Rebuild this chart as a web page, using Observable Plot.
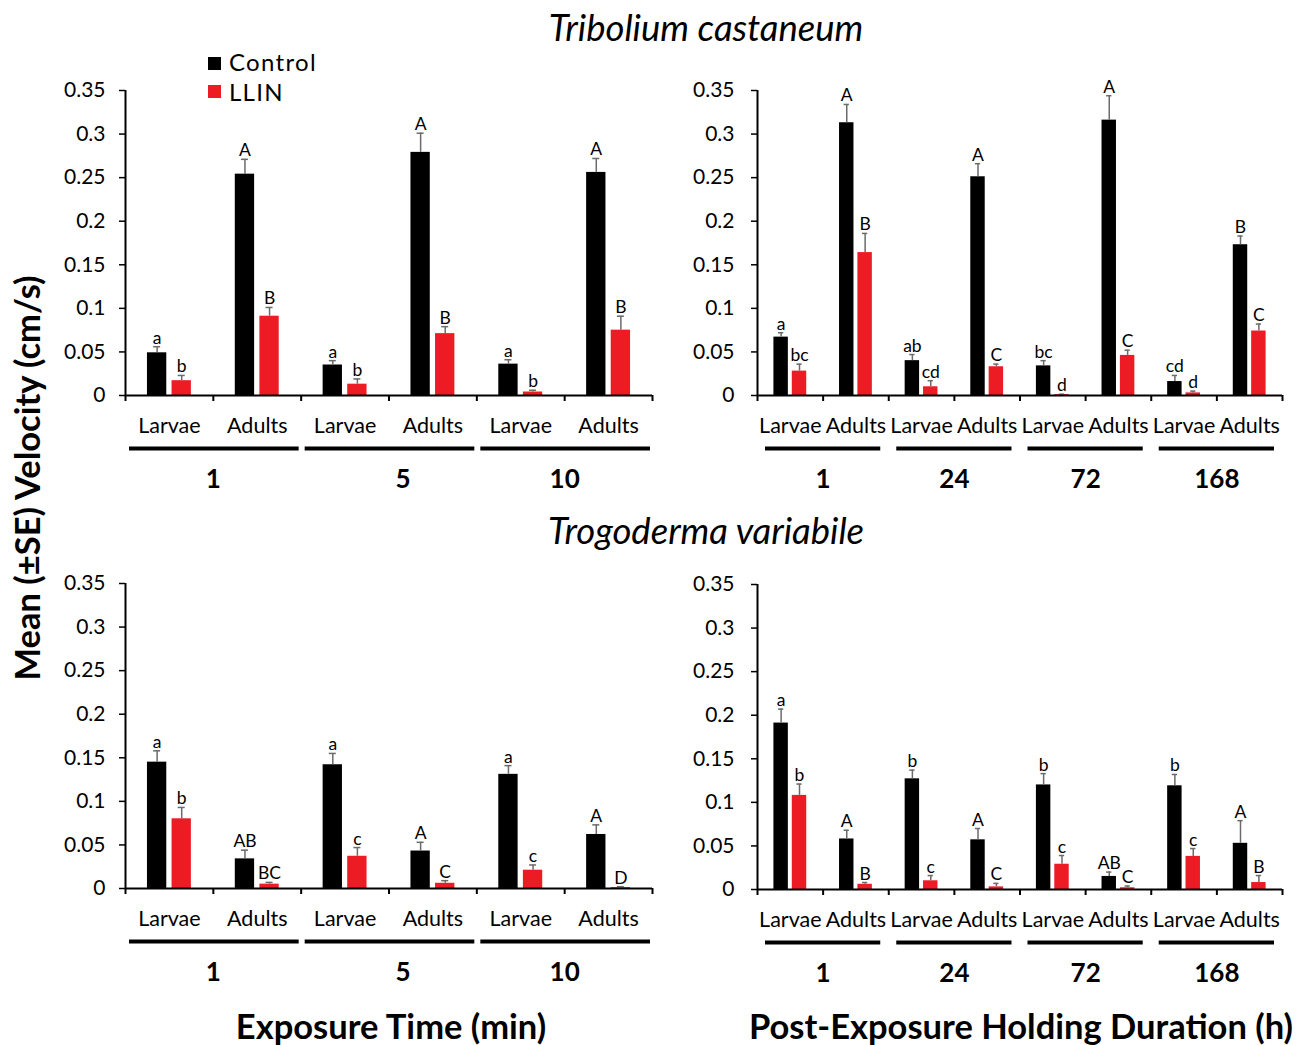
<!DOCTYPE html>
<html>
<head>
<meta charset="utf-8">
<script src="https://cdn.jsdelivr.net/npm/d3@7"></script>
<script src="https://cdn.jsdelivr.net/npm/@observablehq/plot@0.6"></script>
<style>
  html, body { margin: 0; padding: 0; background: #fff; }
  body { width: 1301px; height: 1045px; position: relative; overflow: hidden; font-family: Lato, "Open Sans", sans-serif; color: #000; }
  .abs { position: absolute; white-space: nowrap; line-height: 1; }
  .center { transform: translate(-50%, -50%); }
  .title { font-size: 36.5px; font-style: italic; }
  .axtitle { font-size: 34.5px; font-weight: bold; }
  .legsq { position: absolute; width: 13px; height: 13px; }
  .legtx { font-size: 24px; line-height: 1; letter-spacing: 1.3px; }
</style>
</head>
<body>
<script>
// ---------------- data ----------------
const stages = ["Larvae", "Adults"];
const treatments = ["Control", "LLIN"];
const yTicks = [0, 0.05, 0.1, 0.15, 0.2, 0.25, 0.3, 0.35];

// Tribolium castaneum — exposure time (min)
const tcExpGroups = ["1", "5", "10"];
const tcExpCtrlMean = [0.049, 0.254, 0.035, 0.279, 0.036, 0.256];
const tcExpCtrlSE   = [0.007, 0.017, 0.005, 0.022, 0.005, 0.016];
const tcExpLlinMean = [0.017, 0.091, 0.013, 0.071, 0.004, 0.075];
const tcExpLlinSE   = [0.006, 0.010, 0.006, 0.008, 0.002, 0.016];
const tcExpCtrlLetters = ["a", "A", "a", "A", "a", "A"];
const tcExpLlinLetters = ["b", "B", "b", "B", "b", "B"];

// Tribolium castaneum — post-exposure holding duration (h)
const tcHoldGroups = ["1", "24", "72", "168"];
const tcHoldCtrlMean = [0.067, 0.313, 0.040, 0.251, 0.034, 0.316, 0.016, 0.173];
const tcHoldCtrlSE   = [0.005, 0.021, 0.007, 0.015, 0.006, 0.028, 0.007, 0.010];
const tcHoldLlinMean = [0.028, 0.164, 0.010, 0.033, 0.001, 0.046, 0.003, 0.074];
const tcHoldLlinSE   = [0.008, 0.022, 0.007, 0.003, 0.0005, 0.006, 0.002, 0.008];
const tcHoldCtrlLetters = ["a", "A", "ab", "A", "bc", "A", "cd", "B"];
const tcHoldLlinLetters = ["bc", "B", "cd", "C", "d", "C", "d", "C"];

// Trogoderma variabile — exposure time (min)
const tvExpGroups = ["1", "5", "10"];
const tvExpCtrlMean = [0.145, 0.034, 0.142, 0.043, 0.131, 0.062];
const tvExpCtrlSE   = [0.013, 0.010, 0.013, 0.010, 0.010, 0.011];
const tvExpLlinMean = [0.080, 0.005, 0.037, 0.006, 0.021, 0.001];
const tvExpLlinSE   = [0.013, 0.002, 0.010, 0.003, 0.006, 0.001];
const tvExpCtrlLetters = ["a", "AB", "a", "A", "a", "A"];
const tvExpLlinLetters = ["b", "BC", "c", "C", "c", "D"];

// Trogoderma variabile — post-exposure holding duration (h)
const tvHoldGroups = ["1", "24", "72", "168"];
const tvHoldCtrlMean = [0.191, 0.058, 0.127, 0.057, 0.120, 0.015, 0.119, 0.053];
const tvHoldCtrlSE   = [0.016, 0.010, 0.010, 0.013, 0.013, 0.005, 0.013, 0.026];
const tvHoldLlinMean = [0.108, 0.006, 0.010, 0.003, 0.029, 0.002, 0.038, 0.008];
const tvHoldLlinSE   = [0.013, 0.002, 0.006, 0.004, 0.010, 0.002, 0.009, 0.008];
const tvHoldCtrlLetters = ["a", "A", "b", "A", "b", "AB", "b", "A"];
const tvHoldLlinLetters = ["b", "B", "c", "C", "c", "C", "c", "B"];

// ---------------- styling ----------------
const colors = {Control: "#000000", LLIN: "#ed1c24"};
const errColor = "#6b6b6b";
const barCenter = {Control: 0.36, LLIN: 0.64};
const barWidthFrac = 0.22;

function panel(cfg) {
  const {groups, ctrlMean, ctrlSE, llinMean, llinSE, ctrlLetters, llinLetters,
         left, top, axisX, rightX, tickPadding, lineInsetL, lineInsetR, groupLabelShift} = cfg;
  const marginTop = 20, plotH = 305, marginBottom = 110, marginRight = 8;
  const marginLeft = axisX - left;
  const width = rightX + marginRight - left;
  const height = marginTop + plotH + marginBottom;
  const cats = groups.flatMap(g => stages.map(s => ({key: g + "|" + s, group: g, stage: s})));
  const keys = cats.map(d => d.key);
  const bw = (rightX - axisX) / keys.length;
  const rows = {
    Control: cats.map((c, i) => ({...c, mean: ctrlMean[i], se: ctrlSE[i], letter: ctrlLetters[i]})),
    LLIN: cats.map((c, i) => ({...c, mean: llinMean[i], se: llinSE[i], letter: llinLetters[i]}))
  };
  const groupRows = groups.map((g, i) => ({group: g, first: g + "|" + stages[0], last: g + "|" + stages[stages.length - 1], shift: groupLabelShift[i]}));
  const capHalf = Math.max(2.5, bw * 0.04);

  const treatMarks = treatments.flatMap(t => {
    const c = barCenter[t] * bw, h = barWidthFrac * bw / 2, dx = c - bw / 2;
    const data = rows[t];
    return [
      Plot.barY(data, {x: "key", y: "mean", fill: colors[t], insetLeft: c - h, insetRight: bw - c - h}),
      Plot.ruleX(data, {x: "key", y1: "mean", y2: d => d.mean + d.se, dx, stroke: errColor, strokeWidth: 1.5}),
      Plot.tickY(data, {x: "key", y: d => d.mean + d.se, insetLeft: c - capHalf, insetRight: bw - c - capHalf, stroke: errColor, strokeWidth: 1.5}),
      Plot.text(data, {x: "key", y: d => d.mean + d.se, text: "letter", dx, dy: -3, lineAnchor: "bottom", fontSize: 17.5})
    ];
  });

  const groupTextMarks = groupRows.map(g =>
    Plot.text([g], {x: "first", y: 0, text: "group", dx: bw / 2 + g.shift, dy: 84, fontSize: 26, fontWeight: "bold", lineAnchor: "middle"})
  );

  const svg = Plot.plot({
    width, height, marginLeft, marginRight, marginTop, marginBottom,
    style: {background: "transparent", fontFamily: "Lato, 'Open Sans', sans-serif", fontSize: "21px", overflow: "visible", color: "#000"},
    x: {type: "band", domain: keys, padding: 0, round: false, axis: null},
    y: {domain: [0, 0.35], axis: null},
    marks: [
      ...treatMarks,
      Plot.ruleY([0], {stroke: "#000", strokeWidth: 2}),
      Plot.ruleX([keys[0]], {x: d => d, y1: 0, y2: 0.35, dx: -bw / 2, stroke: "#000", strokeWidth: 2}),
      Plot.ruleX(keys, {x: d => d, y1: 0, y2: 0, dx: -bw / 2, insetBottom: -6, stroke: "#000", strokeWidth: 2}),
      Plot.ruleX([keys[keys.length - 1]], {x: d => d, y1: 0, y2: 0, dx: bw / 2, insetBottom: -6, stroke: "#000", strokeWidth: 2}),
      Plot.axisY(yTicks, {tickSize: 6, tickPadding, tickFormat: d => String(d), fontSize: 21, label: null, stroke: "#000", strokeWidth: 1.5}),
      Plot.text(cats, {x: "key", y: 0, text: "stage", dy: 31, fontSize: 21.5, lineAnchor: "middle"}),
      Plot.ruleY(groupRows, {x1: "first", x2: "last", y: 0, dy: 53, insetLeft: lineInsetL, insetRight: lineInsetR, stroke: "#000", strokeWidth: 4}),
      ...groupTextMarks
    ]
  });
  svg.style.position = "absolute";
  svg.style.left = left + "px";
  svg.style.top = top + "px";
  document.body.appendChild(svg);
}

panel({groups: tcExpGroups, ctrlMean: tcExpCtrlMean, ctrlSE: tcExpCtrlSE, llinMean: tcExpLlinMean, llinSE: tcExpLlinSE,
       ctrlLetters: tcExpCtrlLetters, llinLetters: tcExpLlinLetters,
       left: 40, top: 70, axisX: 125, rightX: 652, tickPadding: 14, lineInsetL: 4, lineInsetR: 2, groupLabelShift: [0, 14, 0]});
panel({groups: tcHoldGroups, ctrlMean: tcHoldCtrlMean, ctrlSE: tcHoldCtrlSE, llinMean: tcHoldLlinMean, llinSE: tcHoldLlinSE,
       ctrlLetters: tcHoldCtrlLetters, llinLetters: tcHoldLlinLetters,
       left: 670, top: 70, axisX: 757, rightX: 1282, tickPadding: 17, lineInsetL: 8, lineInsetR: 8, groupLabelShift: [0, 0, 0, 0]});
panel({groups: tvExpGroups, ctrlMean: tvExpCtrlMean, ctrlSE: tvExpCtrlSE, llinMean: tvExpLlinMean, llinSE: tvExpLlinSE,
       ctrlLetters: tvExpCtrlLetters, llinLetters: tvExpLlinLetters,
       left: 40, top: 563, axisX: 125, rightX: 652, tickPadding: 14, lineInsetL: 4, lineInsetR: 2, groupLabelShift: [0, 14, 0]});
panel({groups: tvHoldGroups, ctrlMean: tvHoldCtrlMean, ctrlSE: tvHoldCtrlSE, llinMean: tvHoldLlinMean, llinSE: tvHoldLlinSE,
       ctrlLetters: tvHoldCtrlLetters, llinLetters: tvHoldLlinLetters,
       left: 670, top: 564, axisX: 757, rightX: 1282, tickPadding: 17, lineInsetL: 8, lineInsetR: 8, groupLabelShift: [0, 0, 0, 0]});

// ---------------- titles, legend, axis titles ----------------
function addText(txt, cls, x, y, extra) {
  const d = document.createElement("div");
  d.className = "abs center " + cls;
  d.textContent = txt;
  d.style.left = x + "px";
  d.style.top = y + "px";
  if (extra) Object.assign(d.style, extra);
  document.body.appendChild(d);
  return d;
}
addText("Tribolium castaneum", "title", 706, 27);
addText("Trogoderma variabile", "title", 706, 530);
addText("Exposure Time (min)", "axtitle", 391, 1026);
addText("Post-Exposure Holding Duration (h)", "axtitle", 1021, 1026);
addText("Mean (\u00b1SE) Velocity (cm/s)", "axtitle", 27, 478, {transform: "translate(-50%, -50%) rotate(-90deg)"});

treatments.forEach((t, i) => {
  const sq = document.createElement("div");
  sq.className = "legsq";
  sq.style.left = "208px";
  sq.style.top = (57 + i * 28) + "px";
  sq.style.background = colors[t];
  document.body.appendChild(sq);
  const tx = document.createElement("div");
  tx.className = "abs legtx";
  tx.textContent = t;
  tx.style.left = "229px";
  tx.style.top = (62 + i * 30) + "px";
  tx.style.transform = "translateY(-50%)";
  document.body.appendChild(tx);
});
</script>
</body>
</html>
